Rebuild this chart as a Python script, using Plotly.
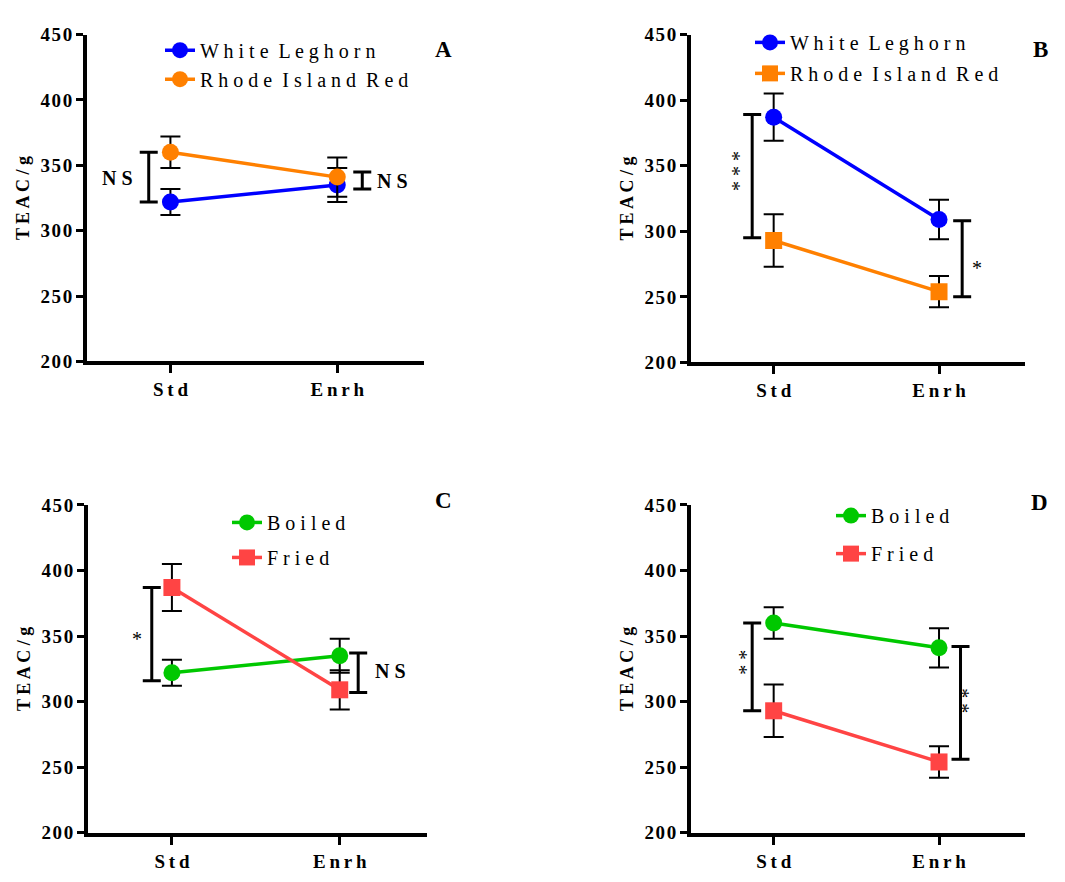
import plotly.graph_objects as go

# ---------------- data ----------------
CATS = ["Std", "Enrh"]
Y_TICKS = [200, 250, 300, 350, 400, 450]

# Panel A
A_WL = [322, 335]
A_WL_ERR = [10, 13]
A_RIR = [360, 341]
A_RIR_ERR = [12, 15]
# Panel B
B_WL = [387, 309]
B_WL_ERR = [18, 15]
B_RIR = [293, 254]
B_RIR_ERR = [20, 12]
# Panel C
C_BOILED = [322, 335]
C_BOILED_ERR = [10, 13]
C_FRIED = [387, 309]
C_FRIED_ERR = [18, 15]
# Panel D
D_BOILED = [360, 341]
D_BOILED_ERR = [12, 15]
D_FRIED = [293, 254]
D_FRIED_ERR = [20, 12]

# significance brackets (low, high) and labels per panel: [Std, Enrh]
A_SIG_LO = [322, 332]
A_SIG_HI = [360, 345]
A_SIG_TXT = ["N S", "N S"]
B_SIG_LO = [295, 250]
B_SIG_HI = [389, 308]
B_SIG_TXT = ["* * *", "*"]
C_SIG_LO = [316, 307]
C_SIG_HI = [387, 337]
C_SIG_TXT = ["*", "N S"]
D_SIG_LO = [293, 256]
D_SIG_HI = [360, 342]
D_SIG_TXT = ["* *", "* *"]

# ---------------- style ----------------
BLUE = "#0000FF"
ORANGE = "#FF8000"
GREEN = "#00C800"
RED = "#FF4444"
SERIF = "Liberation Serif, Times New Roman, serif"
THIN = "\u2009"
HAIR = "\u200A"

W, H = 1049, 866
OFF = 8


def px(xp):
    return (xp - OFF) / W


def py(yp):
    return 1 - (yp - OFF) / H


def spaced(s, sep=THIN):
    return sep.join(list(s))


def legend_name(s):
    return "  ".join(" ".join(list(w)) for w in s.split(" "))


fig = go.Figure()

panels = [
    dict(name="A", xdom=(87, 424), ydom=(25, 360),
         series=[("White Leghorn", A_WL, A_WL_ERR, BLUE, "circle"),
                 ("Rhode Island Red", A_RIR, A_RIR_ERR, ORANGE, "circle")],
         sig=(A_SIG_LO, A_SIG_HI, A_SIG_TXT), brx=[-0.13, 1.15],
         lab=[(-0.32, 340, 0), (1.33, 338, 0)],
         leg=(160, 21, 0), letter=(443, 25)),
    dict(name="B", xdom=(691, 1025), ydom=(25, 361),
         series=[("White Leghorn", B_WL, B_WL_ERR, BLUE, "circle"),
                 ("Rhode Island Red", B_RIR, B_RIR_ERR, ORANGE, "square")],
         sig=(B_SIG_LO, B_SIG_HI, B_SIG_TXT), brx=[-0.13, 1.14],
         lab=[(-0.21, 346, -90), (1.23, 272, 0)],
         leg=(750, 13, 2), letter=(1050, 25)),
    dict(name="C", xdom=(88, 427), ydom=(507, 843),
         series=[("Boiled", C_BOILED, C_BOILED_ERR, GREEN, "circle"),
                 ("Fried", C_FRIED, C_FRIED_ERR, RED, "square")],
         sig=(C_SIG_LO, C_SIG_HI, C_SIG_TXT), brx=[-0.12, 1.11],
         lab=[(-0.21, 348, 0), (1.30, 323, 0)],
         leg=(227, 505, 6), letter=(443, 503)),
    dict(name="D", xdom=(691, 1025), ydom=(507, 843),
         series=[("Boiled", D_BOILED, D_BOILED_ERR, GREEN, "circle"),
                 ("Fried", D_FRIED, D_FRIED_ERR, RED, "square")],
         sig=(D_SIG_LO, D_SIG_HI, D_SIG_TXT), brx=[-0.13, 1.13],
         lab=[(-0.165, 330, -90), (1.175, 301, -90)],
         leg=(831, 498, 9), letter=(1050, 505)),
]

xpos = list(range(len(CATS)))
annotations = []
layout_axes = {}

for i, p in enumerate(panels):
    k = "" if i == 0 else str(i + 1)
    xa, ya = "x" + k, "y" + k
    legname = "legend" + k
    for j, (nm, vals, errs, col, sym) in enumerate(p["series"]):
        fig.add_trace(go.Scatter(
            x=xpos, y=vals, name=legend_name(nm),
            mode="lines+markers",
            line=dict(color=col, width=3.5),
            marker=dict(color=col, size=17, symbol=sym),
            error_y=dict(type="data", array=errs, visible=True,
                         color="black", thickness=2, width=10),
            xaxis=xa, yaxis=ya, legend=legname, legendgroup=p["name"] + str(j),
        ))
    lo, hi, txt = p["sig"]
    for j in range(len(CATS)):
        mid = (lo[j] + hi[j]) / 2
        half = (hi[j] - lo[j]) / 2
        fig.add_trace(go.Scatter(
            x=[p["brx"][j]], y=[mid], mode="markers",
            marker=dict(size=1, opacity=0),
            error_y=dict(type="data", array=[half], visible=True,
                         color="black", thickness=3, width=9),
            xaxis=xa, yaxis=ya, showlegend=False, hoverinfo="skip",
        ))
        lx, ly, rot = p["lab"][j]
        isstar = "*" in txt[j]
        annotations.append(dict(
            x=lx, y=ly, xref=xa, yref=ya,
            text=txt[j] if isstar else "<b>" + txt[j] + "</b>",
            showarrow=False, textangle=rot,
            font=dict(family=SERIF, size=20, color="black"),
        ))
    # panel letter
    annotations.append(dict(
        x=px(p["letter"][0]), y=py(p["letter"][1]), xref="paper", yref="paper",
        text="<b>" + p["name"] + "</b>", showarrow=False,
        font=dict(family=SERIF, size=23, color="black"),
    ))
    lx0, ly0, gap = p["leg"]
    layout_axes[legname] = dict(
        x=px(lx0), y=py(ly0), xanchor="left", yanchor="top",
        bgcolor="rgba(0,0,0,0)", borderwidth=0,
        font=dict(family=SERIF, size=20, color="black"),
        traceorder="grouped", tracegroupgap=gap, itemwidth=30,
    )
    layout_axes["xaxis" + k] = dict(
        domain=[px(p["xdom"][0]), px(p["xdom"][1])], anchor=ya,
        range=[-0.5, 1.52], tickvals=xpos,
        ticktext=["<b>" + spaced(c) + "</b>" for c in CATS],
        showline=True, linewidth=4, linecolor="black",
        ticks="outside", ticklen=8, tickwidth=3, tickcolor="black",
        showgrid=False, zeroline=False,
        tickfont=dict(family=SERIF, size=19, color="black"),
    )
    layout_axes["yaxis" + k] = dict(
        domain=[py(p["ydom"][1]), py(p["ydom"][0])], anchor=xa,
        range=[200, 450], tickvals=Y_TICKS,
        ticktext=["<b>" + spaced(str(t), HAIR) + "</b>" for t in Y_TICKS],
        showline=True, linewidth=4, linecolor="black",
        ticks="outside", ticklen=7, tickwidth=3, tickcolor="black",
        showgrid=False, zeroline=False,
        tickfont=dict(family=SERIF, size=19, color="black"),
        title=dict(text="<b>" + spaced("TEAC/g", " ") + "</b>", standoff=7,
                   font=dict(family=SERIF, size=18, color="black")),
    )

fig.update_layout(
    width=W, height=H,
    margin=dict(l=0, r=0, t=0, b=0),
    paper_bgcolor="white", plot_bgcolor="white",
    annotations=annotations,
    **layout_axes,
)

fig.write_html("out.html")
